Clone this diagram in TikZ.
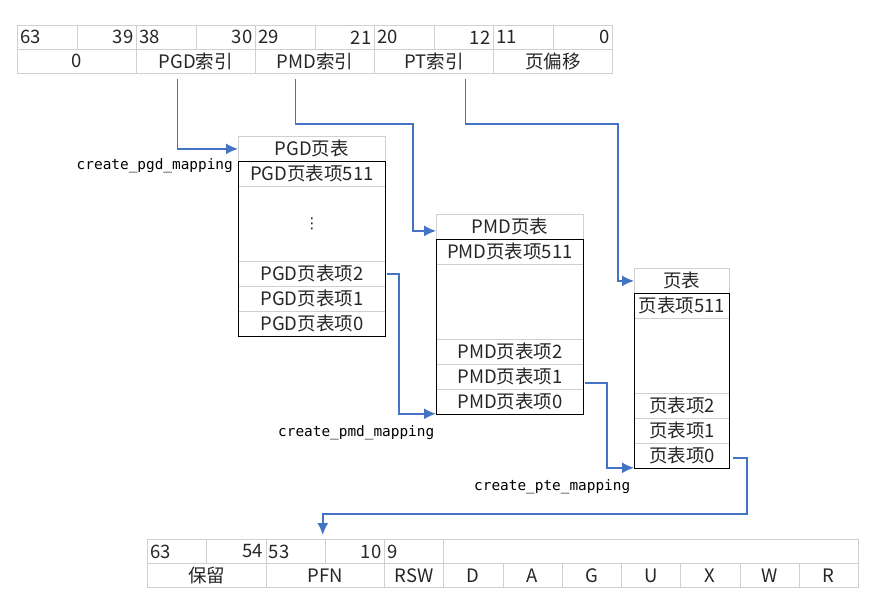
\documentclass[tikz,border=0pt]{standalone}
\usepackage{fontspec}
\setmainfont{Noto Sans CJK SC}
\newfontfamily\monofont{DejaVu Sans Mono}
\newfontfamily\symfont{DejaVu Sans}
\usetikzlibrary{arrows.meta,calc}
\definecolor{gridgray}{HTML}{D0D0D0}
\definecolor{arrblue}{HTML}{4472C4}
\definecolor{txt}{HTML}{262626}
\begin{document}
\begin{tikzpicture}[x=1pt,y=-1pt,
  every node/.style={text=txt,font=\fontsize{18.5}{20}\selectfont},
  hc/.style={draw=gridgray,line width=0.8pt,anchor=north west,inner xsep=3pt,inner ysep=0pt,minimum height=24pt,text width=#1},
  hc/.default=53.25pt,
  wc/.style={draw=gridgray,line width=0.8pt,anchor=north west,inner sep=0pt,minimum height=24pt,minimum width=#1},
  tc/.style={draw=gridgray,line width=0.8pt,anchor=north west,inner sep=0pt,minimum height=25pt,minimum width=#1},
  box/.style={draw=black,line width=1pt},
  arr/.style={draw=arrblue,line width=1.6pt,-{Latex[length=12pt,width=11pt]}},
  mono/.style={font=\monofont\fontsize{14.4}{16}\selectfont,text=black,inner sep=0pt}]
\useasboundingbox (0,0) rectangle (875,607);
% ---------- top address table ----------
\foreach \i/\t in {0/63,2/38,4/29,6/20,8/11}
  \node[hc=53.5pt,align=left] (t\i) at ({17+59.5*\i},25) {\t};
\foreach \i/\t in {1/39,3/30,5/21,7/12,9/0}
  \node[hc=53.5pt,align=right] (t\i) at ({17+59.5*\i},25) {\t};
\foreach \i/\t in {0/0,1/PGD索引,2/PMD索引,3/PT索引,4/页偏移}
  \node[wc=119pt] (b\i) at ({17+119*\i},49) {\t};
% ---------- PGD table ----------
\node[tc=147pt] (pgdt) at (238,136) {PGD页表};
\node[tc=147pt] (pgd511) at (238,161) {PGD页表项511};
\node[tc=147pt,minimum height=75pt] (pgdm) at (238,186) {\symfont\fontsize{15}{15}\selectfont ⋮};
\node[tc=147pt] (pgd2) at (238,261) {PGD页表项2};
\node[tc=147pt] (pgd1) at (238,286) {PGD页表项1};
\node[tc=147pt] (pgd0) at (238,311) {PGD页表项0};
\draw[box] (238,161) rectangle (385,336);
% ---------- PMD table ----------
\node[tc=147pt] (pmdt) at (436,214) {PMD页表};
\node[tc=147pt] (pmd511) at (436,239) {PMD页表项511};
\node[tc=147pt,minimum height=75pt] (pmdm) at (436,264) {};
\node[tc=147pt] (pmd2) at (436,339) {PMD页表项2};
\node[tc=147pt] (pmd1) at (436,364) {PMD页表项1};
\node[tc=147pt] (pmd0) at (436,389) {PMD页表项0};
\draw[box] (436,239) rectangle (583,414);
% ---------- PT table ----------
\node[tc=95pt] (ptt) at (634,268) {页表};
\node[tc=95pt] (pt511) at (634,293) {页表项511};
\node[tc=95pt,minimum height=75pt] (ptm) at (634,318) {};
\node[tc=95pt] (pt2) at (634,393) {页表项2};
\node[tc=95pt] (pt1) at (634,418) {页表项1};
\node[tc=95pt] (pt0) at (634,443) {页表项0};
\draw[box] (634,293) rectangle (729,468);
% ---------- bottom PTE table ----------
\node[hc=53.25pt,align=left] (q0) at (147,539) {63};
\node[hc=53.25pt,align=right] (q1) at (206.25,539) {54};
\node[hc=53.25pt,align=left] (q2) at (265.5,539) {53};
\node[hc=53.25pt,align=right] (q3) at (324.75,539) {10};
\node[hc=53.25pt,align=left] (q4) at (384,539) {9};
\node[wc=414.75pt] (q5) at (443.25,539) {};
\node[wc=118.5pt] (r0) at (147,563) {保留};
\node[wc=118.5pt] (r1) at (265.5,563) {PFN};
\node[wc=59.25pt] (r2) at (384,563) {RSW};
\foreach \i/\t in {0/D,1/A,2/G,3/U,4/X,5/W,6/R}
  \node[wc=59.25pt] (s\i) at ({443.25+59.25*\i},563) {\t};
% ---------- connectors ----------
\coordinate (k2) at (413,124);
\coordinate (k3) at (618,124);
\coordinate (k6) at (747,514);
\draw[arr] ([xshift=-18.5pt,yshift=-5pt]b1.south) |- (pgdt.west);
\draw[arr] ([xshift=-19.5pt,yshift=-5pt]b2.south) |- (k2) |- ([yshift=-4pt]pmdt.west);
\draw[arr] ([xshift=31.5pt,yshift=-5pt]b3.south) |- (k3) |- (ptt.west);
\draw[arr] ([xshift=1pt]pgd2.east) -| ([xshift=-37pt,yshift=1pt]pmd0.south west) -- ([yshift=1pt]pmd0.south west);
\draw[arr] ([xshift=1pt,yshift=-6pt]pmd1.east) -| ([xshift=-27pt,yshift=1pt]pt0.south west) -- ([yshift=1pt]pt0.south west);
\draw[arr] ([xshift=3pt,yshift=-2pt]pt0.east) -| (k6) -| ([xshift=-2pt,yshift=4pt]q3.north west);
% ---------- labels ----------
\node[mono,anchor=east] (l1) at (233,166) {create\_pgd\_mapping};
\node[mono,anchor=west] (l2) at (278,433) {create\_pmd\_mapping};
\node[mono,anchor=west] (l3) at (474,487) {create\_pte\_mapping};
\end{tikzpicture}
\end{document}
